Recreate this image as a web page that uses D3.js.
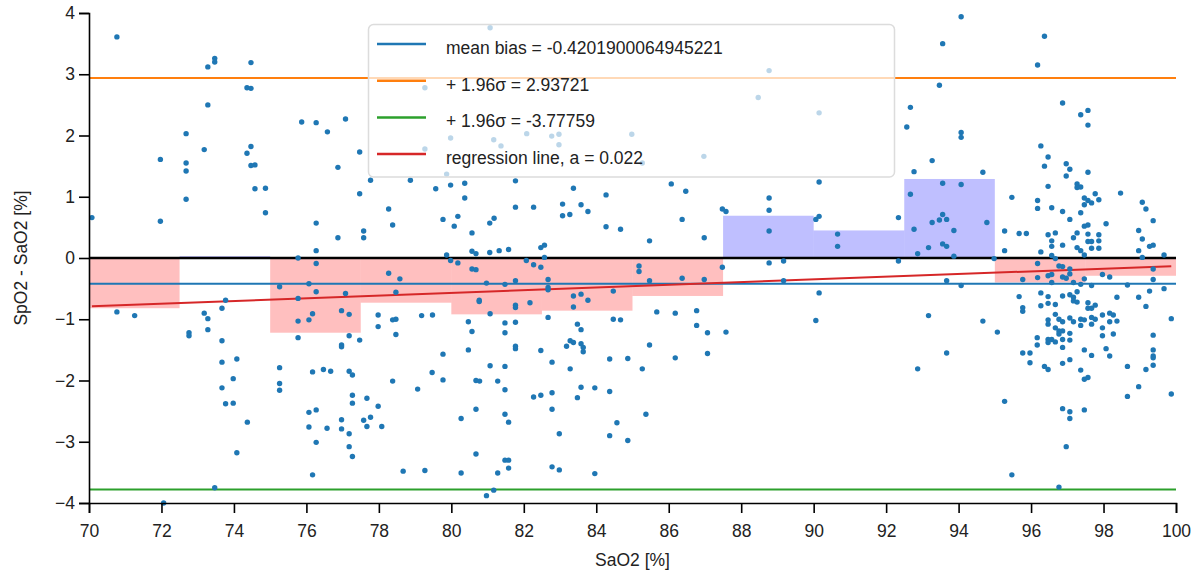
<!DOCTYPE html>
<html>
<head>
<meta charset="utf-8">
<script src="https://cdn.jsdelivr.net/npm/d3@7"></script>
<style>
  html, body { margin: 0; padding: 0; background: #fff; }
  svg { display: block; font-family: "Liberation Sans", Arial, sans-serif; }
</style>
</head>
<body>
<svg id="chart" width="1195" height="572"></svg>
<script>
// ---- data ----
// each row: [SaO2, SpO2-SaO2 differences measured at that SaO2 ...]
const measurements = [
 [70.08, 0.66], [70.77, 3.61, -0.88], [71.26, -0.94], [71.97, 1.61, 0.60], [72.06, -4.0],
 [72.68, 2.03, 1.55, 1.42, 0.96], [72.76, -1.22, -1.27], [73.18, 1.77, -0.90],
 [73.28, 3.12, 2.50, -0.99, -1.17], [73.47, 3.26, 3.20, -3.75], [73.67, -0.82, -1.35, -1.70, -2.12],
 [73.77, -0.69, -2.38], [73.98, -1.97, -2.37], [74.08, -1.65, -3.18], [74.36, 2.78, 1.71],
 [74.37, -2.68], [74.47, 3.19, 2.77, 1.82, 1.51], [74.58, 1.52, 1.13], [74.87, 1.14, 0.74],
 [75.26, -0.47, -1.79, -2.05, -2.16], [75.77, 0.00, -0.66, -1.03, -1.30], [75.87, 2.22],
 [76.07, -0.42, -1.01, -2.52, -2.76], [76.17, -0.91, -1.86, -3.54],
 [76.27, 2.21, 0.57, 0.12, -0.09, -0.55, -2.48, -3.01], [76.47, -1.82], [76.57, -2.78],
 [76.58, 2.06], [76.67, -1.85], [76.87, 1.48, 0.33], [76.97, -0.86, -1.42, -1.45, -2.64, -2.79],
 [77.08, 2.27, -0.58], [77.18, -0.92, -1.27, -1.85, -2.87, -3.08], [77.27, -1.91, -2.24, -2.37, -3.24],
 [77.47, 1.73, 1.05, -1.34], [77.58, 0.44, 0.33, -2.65], [77.67, -2.29, -2.75], [77.77, 1.27, -2.60],
 [77.98, -0.93, -1.12, -2.42], [78.08, -2.75], [78.27, 0.80, -0.25], [78.38, 0.54, -1.01, -2.01],
 [78.47, -0.56, -1.00, -1.25], [78.58, -0.34], [78.67, -3.48], [78.87, 1.27], [79.07, -2.14],
 [79.18, -0.94], [79.27, 2.78, 1.78, -3.47], [79.47, -1.87], [79.48, -0.93], [79.57, 1.13],
 [79.77, 0.63, -1.57, -1.99], [79.87, 1.37, 0.05], [79.98, 1.96, 1.19, -0.04], [80.08, 0.52],
 [80.18, 0.68, -0.08], [80.27, -2.62, -3.51], [80.37, 1.22, 0.98], [80.47, -1.04, -1.50],
 [80.57, 0.41, 0.11, -0.18, -1.20], [80.68, 0.07, -0.19, -2.00, -2.47, -3.20], [80.77, -0.69, -0.71],
 [80.78, -2.01], [80.97, -0.41, -3.88], [81.06, 0.57, 0.09], [81.07, 3.76, -0.91, -1.76],
 [81.17, 1.93, -3.79], [81.18, 0.65], [81.28, -2.01, -3.51], [81.32, 0.12], [81.37, 1.83],
 [81.48, -0.43, -1.06, -1.22, -1.77, -2.15, -2.55, -3.30], [81.58, 0.14, -2.68, -3.30, -3.43],
 [81.77, 1.26, 0.83, -0.37, -0.77, -0.81, -1.05, -1.44, -1.48], [82.07, -0.04], [82.08, 2.03],
 [82.17, -0.73], [82.27, 0.83, -0.11, -2.27], [82.47, 0.17, -0.15, -1.51, -2.24], [82.57, 0.21, 0.01],
 [82.67, -0.35, -0.48, -0.52, -0.97], [82.77, 1.99], [82.78, -1.70, -2.20, -2.47, -3.41],
 [82.97, 2.02, 1.85], [82.98, -2.87, -3.46], [83.07, 0.88, 0.69], [83.18, -1.44], [83.27, 0.71],
 [83.28, -1.35, -1.81], [83.37, 1.14, -0.62, -0.80, -1.38], [83.48, -1.08, -2.28],
 [83.58, 0.87, -0.59, -1.17, -1.40, -2.11], [83.64, -1.46, -1.53], [83.77, 0.76, -0.69],
 [83.96, -2.12, -3.52], [84.27, 1.03, 0.51], [84.37, -1.65, -2.18, -2.90], [84.47, -0.54, -1.00],
 [84.57, -2.69], [84.67, 0.47, -1.01], [84.87, -1.64, -2.98], [84.98, 2.02], [85.18, -0.13, -0.22],
 [85.27, 1.55, -1.81], [85.37, -2.55], [85.47, 0.28, -0.37, -1.42], [85.67, -0.88], [86.07, 1.21],
 [86.18, -0.90, -1.63], [86.37, 0.63, -0.33], [86.47, 1.09], [86.77, -0.86, -1.10], [86.97, 1.66],
 [86.98, 0.33, -0.35], [87.07, -1.22, -1.56], [87.48, 0.80, -0.15], [87.58, 0.76, -1.21],
 [88.47, 2.62], [88.77, 3.06, 0.98, 0.78, 0.44, -0.08], [89.17, -0.05, -0.37], [90.06, 0.63, -1.02],
 [90.15, 2.37, 1.24, 0.68, -0.57], [90.66, 0.39, 0.19], [92.34, 0.66, -0.05], [92.57, 2.14],
 [92.67, 2.46, 1.04], [92.77, 1.41, 0.47], [92.87, 0.07, -1.81], [93.17, 0.17, -0.94],
 [93.27, 1.59, 0.58], [93.47, 2.82, 0.62], [93.56, 3.50, 1.22, 0.71, 0.23],
 [93.67, 0.63, 0.19, -0.37, -1.55], [93.87, 0.45, 0.03], [94.07, 3.94, 2.05, 1.97, 1.20, -0.45],
 [94.67, 1.40, -1.03], [94.78, 0.58], [94.98, -0.01], [95.07, -1.21], [95.27, 0.44, 0.12, -2.34],
 [95.47, 0.99, -3.54], [95.67, 0.40, -0.63], [95.77, -0.35, -0.81, -0.87, -1.55], [95.87, 0.40],
 [95.97, -1.55, -1.71], [96.17, -1.30, -1.42], [96.18, 3.15, 0.94, 0.81, -0.09, -0.32],
 [96.27, 1.83, 0.10, -0.57, -0.78], [96.37, 3.62, 1.50, -1.77],
 [96.47, 1.65, 1.17, 0.38, -0.29, -0.63, -0.74, -1.01, -1.08, -1.33, -1.38, -1.82],
 [96.57, 0.82, 0.28, 0.19, 0.04, -0.27, -0.40, -1.33], [96.67, 0.41, -0.01, -0.76, -0.92, -1.14, -1.37],
 [96.77, -0.13, -1.00, -1.19, -1.24, -3.74],
 [96.87, 2.53, 0.76, 0.21, -0.14, -0.31, -0.62, -1.04, -1.19, -1.33, -1.46, -1.72, -2.46],
 [96.97, 1.54, 1.34, -0.33, -3.08],
 [97.07, 1.45, 0.63, -0.18, -0.26, -0.60, -0.98, -1.23, -1.34, -1.66, -2.51, -2.62],
 [97.17, 0.33, -0.40, -0.64, -0.70, -1.04], [97.27, 1.21, 1.15, 0.41, 0.17, -0.55, -0.72],
 [97.37, 2.34, 1.16, 0.74, 0.12, -0.43, -1.00, -1.10, -1.83],
 [97.47, 0.98, 0.87, 0.52, 0.05, -0.34, -1.01, -1.50, -1.98, -2.48],
 [97.57, 2.41, 2.17, 1.40, 0.94, 0.54, 0.39, 0.27, -0.73, -0.82, -1.95],
 [97.67, 0.90, 0.27, 0.16, -0.45, -0.82, -0.97, -1.08, -1.59], [97.77, 1.05, -0.77, -1.00],
 [97.87, 0.95, 0.38, 0.28, 0.16], [97.97, -0.27, -0.93, -1.14, -1.27], [98.07, 0.56, -1.48],
 [98.17, -0.31, -0.90, -1.04, -1.60], [98.27, -0.93, -1.24], [98.37, -0.64, -1.03], [98.47, 1.06],
 [98.66, -0.44, -1.77, -2.26], [98.97, 0.45, 0.12, -0.64, -2.10], [99.07, 0.91, 0.31, 0.01],
 [99.17, 0.80, -0.79, -1.82], [99.27, 0.19, -0.54],
 [99.37, 0.61, 0.21, -0.18, -0.35, -1.26, -1.50, -1.60, -1.63, -1.75], [99.67, 0.05, -0.50],
 [99.87, -0.99, -2.22]
];

// binned mean bias (bins of 2.5 % SaO2)
const binEdges = [70, 72.5, 75, 77.5, 80, 82.5, 85, 87.5, 90, 92.5, 95, 97.5, 100];
const binMeans = [-0.82, 0.03, -1.22, -0.73, -0.92, -0.86, -0.62, 0.69, 0.45, 1.29, -0.40, -0.29];

const meanBias = -0.4201900064945221;
const upperLimit = 2.93721;
const lowerLimit = -3.77759;
const regressionSlope = 0.022;
const regressionIntercept = -2.33;

const xTickValues = [70, 72, 74, 76, 78, 80, 82, 84, 86, 88, 90, 92, 94, 96, 98, 100];
const yTickValues = [-4, -3, -2, -1, 0, 1, 2, 3, 4];

const legendLabels = [
  "mean bias = -0.4201900064945221",
  "+ 1.96\u03c3 = 2.93721",
  "+ 1.96\u03c3 = -3.77759",
  "regression line, a = 0.022"
];
const legendColors = ["#1f77b4", "#ff7f0e", "#2ca02c", "#d62728"];

// ---- chart ----
const W = 1195, H = 572;
const margin = { top: 13, right: 19, bottom: 69, left: 89 };
const FS = "17.5px";

const points = measurements.flatMap(r => r.slice(1).map(v => ({ x: r[0], y: v })));

const x = d3.scaleLinear().domain([70, 100]).range([margin.left, W - margin.right]);
const y = d3.scaleLinear().domain([-4, 4]).range([H - margin.bottom, margin.top]);

const svg = d3.select("#chart");

// bins
const bins = binMeans.map((m, i) => ({ x0: binEdges[i], x1: binEdges[i + 1], m }));
svg.append("g").selectAll("rect").data(bins).join("rect")
  .attr("x", d => x(d.x0))
  .attr("width", d => x(d.x1) - x(d.x0))
  .attr("y", d => y(Math.max(0, d.m)))
  .attr("height", d => Math.abs(y(d.m) - y(0)))
  .attr("fill", d => d.m < 0 ? "rgba(255,0,0,0.25)" : "rgba(0,0,255,0.25)");

// horizontal reference lines
const hlines = [
  { v: 0, c: "#000", w: 2.5 },
  { v: meanBias, c: legendColors[0], w: 2 },
  { v: upperLimit, c: legendColors[1], w: 2 },
  { v: lowerLimit, c: legendColors[2], w: 2 }
];
svg.append("g").selectAll("line").data(hlines).join("line")
  .attr("x1", x(70)).attr("x2", x(100))
  .attr("y1", d => y(d.v)).attr("y2", d => y(d.v))
  .attr("stroke", d => d.c).attr("stroke-width", d => d.w);

// regression line
const xe = d3.extent(points, d => d.x);
svg.append("line")
  .attr("x1", x(xe[0])).attr("x2", x(xe[1]))
  .attr("y1", y(regressionIntercept + regressionSlope * xe[0]))
  .attr("y2", y(regressionIntercept + regressionSlope * xe[1]))
  .attr("stroke", legendColors[3]).attr("stroke-width", 2);

// points
svg.append("g").selectAll("circle").data(points).join("circle")
  .attr("cx", d => x(d.x)).attr("cy", d => y(d.y)).attr("r", 2.7)
  .attr("fill", "#1f77b4");

// axes
const gx = svg.append("g")
  .attr("transform", `translate(0,${H - margin.bottom})`)
  .call(d3.axisBottom(x).tickValues(xTickValues).tickFormat(d3.format("d")).tickSize(10).tickPadding(12));
const gy = svg.append("g")
  .attr("transform", `translate(${margin.left},0)`)
  .call(d3.axisLeft(y).tickValues(yTickValues).tickFormat(d3.format("d")).tickSize(10).tickPadding(4));
[gx, gy].forEach(g => {
  g.selectAll("text").attr("font-size", FS).attr("font-family", "Liberation Sans, Arial, sans-serif").attr("fill", "#222");
  g.select(".domain").attr("stroke-width", 1.6);
  g.selectAll(".tick line").attr("stroke-width", 1.6);
});

svg.append("text")
  .attr("x", (margin.left + W - margin.right) / 2).attr("y", 566)
  .attr("text-anchor", "middle").attr("font-size", FS).attr("fill", "#222")
  .text("SaO2 [%]");
svg.append("text")
  .attr("transform", `translate(27,${(margin.top + H - margin.bottom) / 2}) rotate(-90)`)
  .attr("text-anchor", "middle").attr("font-size", FS).attr("fill", "#222")
  .text("SpO2 - SaO2 [%]");

// legend
const lg = svg.append("g");
lg.append("rect")
  .attr("x", 368.5).attr("y", 24.5).attr("width", 526).attr("height", 152.5)
  .attr("rx", 5).attr("ry", 5)
  .attr("fill", "rgba(255,255,255,0.7)")
  .attr("stroke", "#dcdcdc").attr("stroke-width", 1.5);
const items = lg.selectAll("g.item").data(legendLabels).join("g").attr("class", "item")
  .attr("transform", (d, i) => `translate(0,${44 + i * 36.7})`);
items.append("line").attr("x1", 377).attr("x2", 426).attr("y1", 0).attr("y2", 0)
  .attr("stroke", (d, i) => legendColors[i]).attr("stroke-width", 2.5);
items.append("text").attr("x", 446).attr("y", 10)
  .attr("font-size", FS).attr("fill", "#222").text(d => d);
</script>
</body>
</html>
